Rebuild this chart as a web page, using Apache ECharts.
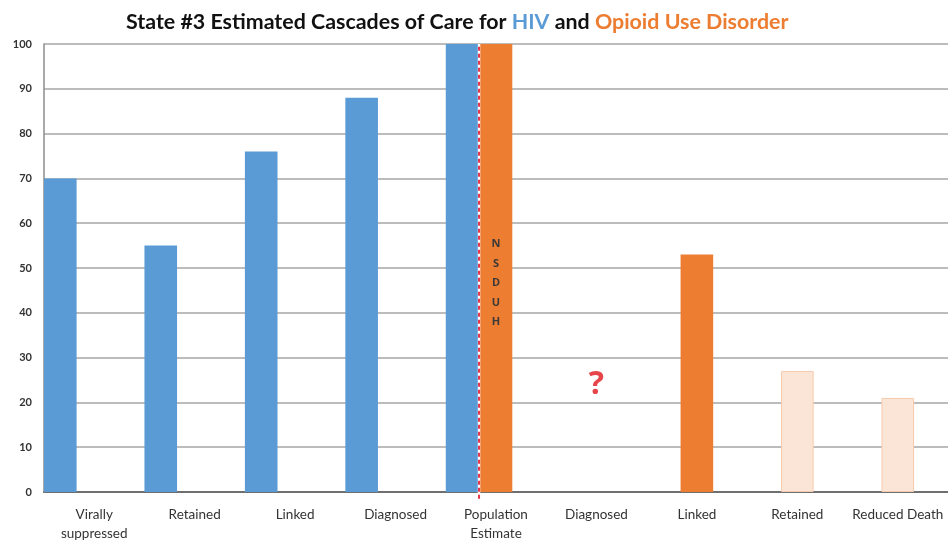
<!DOCTYPE html>
<html>
<head>
<meta charset="utf-8">
<script src="https://cdn.jsdelivr.net/npm/echarts@6/dist/echarts.min.js"></script>
<style>html,body{margin:0;padding:0;background:#fff}#c{width:948px;height:543px}</style>
</head>
<body>
<div id="c"></div>
<script>
// ---- data ----
var categories = ['Virally\nsuppressed', 'Retained', 'Linked', 'Diagnosed', 'Population\nEstimate', 'Diagnosed', 'Linked', 'Retained', 'Reduced Death'];
var hivValues = [70, 55, 76, 88, 100, '-', '-', '-', '-'];
var oudValues = ['-', '-', '-', '-', 100, '-', 53, 27, 21];
var oudEstimated = [false, false, false, false, false, false, false, true, true];
var yTicks = [0, 10, 20, 30, 40, 50, 60, 70, 80, 90, 100];
var questionAt = { index: 5, value: 24 };
var nsduhText = 'NSDUH';

var BLUE = '#5B9BD5', ORANGE = '#ED7D31';
var barGapFrac = 0.04;
var nSlots = 3;
var chart = echarts.init(document.getElementById('c'));

var oudData = oudValues.map(function (v, i) {
  var item = { value: v };
  if (oudEstimated[i]) {
    item.itemStyle = { color: '#FBE5D6', borderColor: '#F8CBAD', borderWidth: 1 };
  }
  if (i === 4) {
    item.label = {
      show: true, position: 'inside', formatter: nsduhText.split('').join('\n'),
      color: '#3a3a3a', fontWeight: 'bold', fontSize: 11, lineHeight: 19.5,
      fontFamily: 'Open Sans', offset: [0, 15]
    };
  }
  return item;
});

// fractional category position of the divider between HIV and OUD slots
var slotW = 1 / (nSlots + (nSlots - 1) * barGapFrac);
var dividerX = categories.indexOf('Population\nEstimate') + slotW + slotW * barGapFrac / 2;

var option = {
  animation: false,
  title: {
    text: '{a|State #3 Estimated Cascades of Care for }{b|HIV}{a| and }{c|Opioid Use Disorder}',
    left: 121, top: 7,
    textStyle: {
      rich: {
        a: { fontFamily: 'Lato', fontWeight: 'bold', fontSize: 21.4, color: '#111' },
        b: { fontFamily: 'Lato', fontWeight: 'bold', fontSize: 21.4, color: BLUE },
        c: { fontFamily: 'Lato', fontWeight: 'bold', fontSize: 21.4, color: ORANGE }
      }
    }
  },
  grid: { left: 44, right: 0, top: 44, bottom: 49 },
  xAxis: [{
    type: 'category', data: categories,
    axisLine: { lineStyle: { color: '#6f6f6f', width: 2 } },
    axisTick: { show: false },
    axisLabel: { color: '#333', fontSize: 13.5, fontFamily: 'Lato', lineHeight: 19, margin: 13, interval: 0 }
  }, {
    type: 'value', min: 0, max: categories.length, show: false
  }],
  yAxis: {
    type: 'value', min: yTicks[0], max: yTicks[yTicks.length - 1], interval: 10,
    axisLine: { show: true, lineStyle: { color: '#8c8c8c', width: 1.5 } },
    axisTick: { show: false },
    axisLabel: { color: '#333', fontSize: 11, fontWeight: 'bold', fontFamily: 'Lato', margin: 12 },
    splitLine: { lineStyle: { color: '#a6a6a6', width: 1.5 } }
  },
  series: [
    { name: 'HIV', type: 'bar', data: hivValues, itemStyle: { color: BLUE }, barCategoryGap: '0%', barGap: (barGapFrac * 100) + '%' },
    { name: 'OUD', type: 'bar', data: oudData, itemStyle: { color: ORANGE } },
    { name: 'spacer', type: 'bar', data: categories.map(function () { return '-'; }) },
    {
      type: 'line', xAxisIndex: 1, clip: false, symbol: 'none', silent: true, z: 5,
      data: [[dividerX, -1.5], [dividerX, 100]],
      lineStyle: { color: '#ffffff', width: 2.5, type: 'solid' }
    },
    {
      type: 'line', xAxisIndex: 1, clip: false, symbol: 'none', silent: true, z: 6,
      data: [[dividerX, -1.5], [dividerX, 100]],
      lineStyle: { color: '#e8344a', width: 2, type: [4, 3] }
    },
    {
      type: 'scatter', symbolSize: 0, silent: true,
      data: [[questionAt.index, questionAt.value]],
      label: { show: true, formatter: '?', position: 'inside', color: '#e0161e', fontSize: 32, fontWeight: 'bold', fontFamily: 'Open Sans' }
    }
  ]
};
chart.setOption(option);
</script>
</body>
</html>
